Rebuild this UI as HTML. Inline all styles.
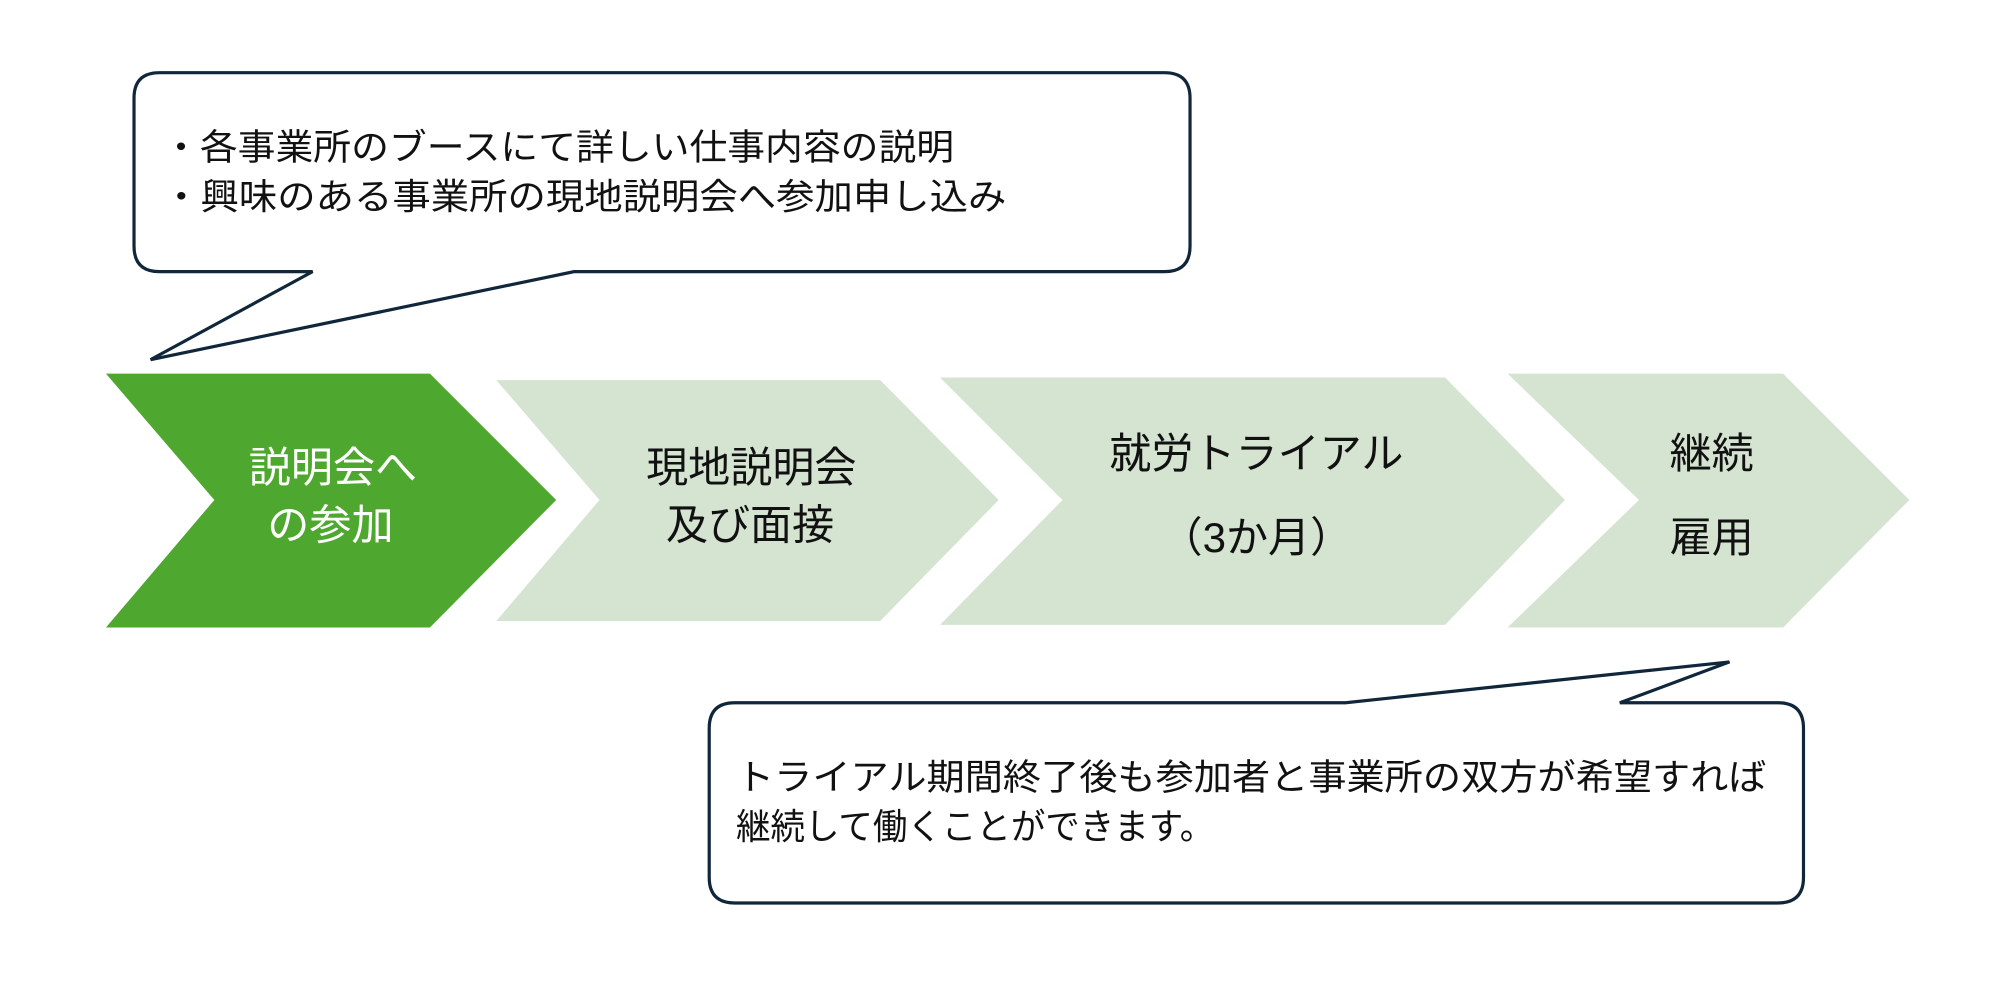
<!DOCTYPE html>
<html><head><meta charset="utf-8"><style>html,body{margin:0;padding:0;background:#fff}svg{display:block}</style></head><body>
<svg width="2000" height="1005" viewBox="0 0 1568 788" xmlns="http://www.w3.org/2000/svg" font-family="'Liberation Sans','Noto Sans CJK JP',sans-serif">
<path d="M125,57 H913 Q933,57 933,77 V193 Q933,213 913,213 H450 L118,282 L245,213 H125 Q105,213 105,193 V77 Q105,57 125,57 Z" fill="#fff" stroke="#10263a" stroke-width="2.5"/>
<text x="127" y="125" font-size="28" fill="#111" textLength="621" lengthAdjust="spacingAndGlyphs">・各事業所のブースにて詳しい仕事内容の説明</text>
<text x="127" y="164" font-size="28" fill="#111" textLength="662" lengthAdjust="spacingAndGlyphs">・興味のある事業所の現地説明会へ参加申し込み</text>
<polygon points="83,293 337,293 436,392 337,492 83,492 168,392" fill="#4ea72e"/>
<polygon points="389,298 690,298 783,392 690,487 389,487 470,392" fill="#d5e3d1"/>
<polygon points="737,296 1133,296 1227,392 1133,490 737,490 833,392" fill="#d5e3d1"/>
<polygon points="1182,293 1398,293 1497,392 1398,492 1182,492 1285,392" fill="#d5e3d1"/>
<g font-size="33" text-anchor="middle">
<text x="261" y="378" fill="#fff">説明会へ</text>
<text x="259" y="423" fill="#fff">の参加</text>
<text x="589" y="378" fill="#111">現地説明会</text>
<text x="588" y="423" fill="#111">及び面接</text>
<text x="985" y="367" fill="#111">就労トライアル</text>
<text x="985" y="433" fill="#111">（3か月）</text>
<text x="1342" y="367" fill="#111">継続</text>
<text x="1342" y="433" fill="#111">雇用</text>
</g>
<path d="M576,551 H1055 L1356,519 L1270,551 H1394 Q1414,551 1414,571 V688 Q1414,708 1394,708 H576 Q556,708 556,688 V571 Q556,551 576,551 Z" fill="#fff" stroke="#10263a" stroke-width="2.5"/>
<text x="577" y="619" font-size="28" fill="#111" textLength="808" lengthAdjust="spacingAndGlyphs">トライアル期間終了後も参加者と事業所の双方が希望すれば</text>
<text x="577" y="658" font-size="28" fill="#111" textLength="375" lengthAdjust="spacingAndGlyphs">継続して働くことができます。</text>
</svg>
</body></html>
